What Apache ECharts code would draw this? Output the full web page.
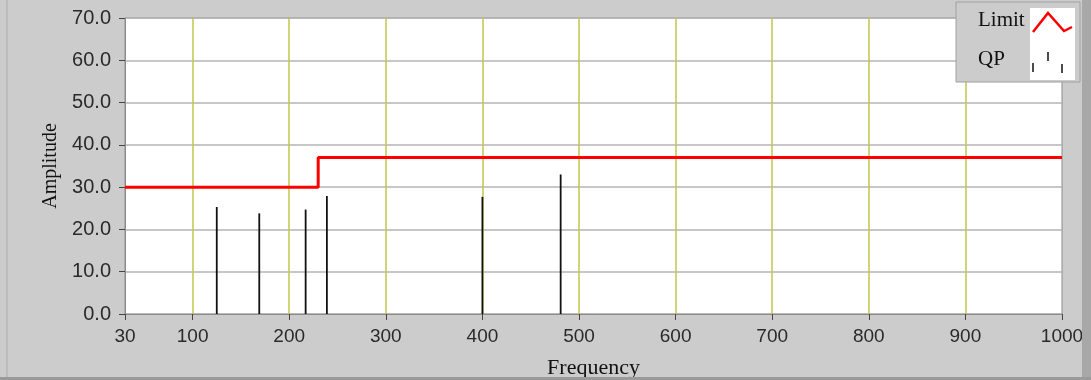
<!DOCTYPE html>
<html>
<head>
<meta charset="utf-8">
<script src="https://cdn.jsdelivr.net/npm/echarts@6/dist/echarts.min.js"></script>
<style>
html,body{margin:0;padding:0;background:#cccccc;}
#chart{width:1091px;height:380px;}
</style>
</head>
<body>
<div id="chart"></div>
<script>
// ---- data ----
var xTicks = [30, 100, 200, 300, 400, 500, 600, 700, 800, 900, 1000];
var xGridLines = [100, 200, 300, 400, 500, 600, 700, 800, 900];
var limitFreq = [30, 230, 230, 1000];
var limitAmp = [30, 30, 37, 37];
var qpFreq = [125, 169, 217, 239, 400, 481];
var qpAmp = [25.3, 23.8, 24.7, 27.9, 27.7, 33.0];
var yMin = 0, yMax = 70, yStep = 10;

var chart = echarts.init(document.getElementById('chart'));
var serif = '"Liberation Serif", "DejaVu Serif", serif';
var sans = '"Liberation Sans", "DejaVu Sans", sans-serif';

var limitData = limitFreq.map(function (f, i) { return [f, limitAmp[i]]; });
var qpData = qpFreq.map(function (f, i) { return [f, qpAmp[i]]; });

var option = {
  backgroundColor: '#cccccc',
  animation: false,
  grid: {
    left: 125, right: 29, top: 18, bottom: 66,
    outerBoundsMode: 'none', containLabel: false,
    show: true, backgroundColor: '#ffffff', borderColor: '#8c8c8c', borderWidth: 1
  },
  xAxis: {
    type: 'value', min: 30, max: 1000,
    name: 'Frequency', nameLocation: 'middle', nameGap: 43,
    nameTextStyle: { fontFamily: serif, fontSize: 22, color: '#111' },
    axisLine: { show: true, lineStyle: { color: '#8c8c8c' } },
    axisTick: { show: true, length: 6, customValues: xTicks, lineStyle: { color: '#444' } },
    axisLabel: { customValues: xTicks, fontFamily: sans, fontSize: 19, color: '#2a2a2a', margin: 13,
      formatter: function (v) { return String(v); } },
    splitLine: { show: false }
  },
  yAxis: {
    type: 'value', min: yMin, max: yMax, interval: yStep,
    name: 'Amplitude', nameLocation: 'middle', nameGap: 61, nameRotate: 90,
    nameTextStyle: { fontFamily: serif, fontSize: 20, color: '#111' },
    axisLine: { show: true, lineStyle: { color: '#8c8c8c' } },
    axisTick: { show: true, length: 6, lineStyle: { color: '#444' } },
    axisLabel: { fontFamily: sans, fontSize: 20, color: '#2a2a2a', margin: 14,
      formatter: function (v) { return v.toFixed(1); } },
    splitLine: { show: true, lineStyle: { color: '#b4b4b4', width: 1.5 } }
  },
  series: [
    {
      type: 'line', data: [], z: 1, silent: true,
      markLine: {
        silent: true, z: 1, symbol: 'none', label: { show: false },
        lineStyle: { color: '#c4c44a', type: 'solid', width: 1.5 },
        data: xGridLines.map(function (v) { return { xAxis: v }; })
      }
    },
    {
      name: 'QP', type: 'bar', data: qpData, barWidth: 1.8, z: 6,
      itemStyle: { color: '#111111' }
    },
    {
      name: 'Limit', type: 'line', data: limitData, showSymbol: false, z: 7,
      lineStyle: { color: '#ff0000', width: 3 }
    }
  ],
  graphic: [
    { type: 'rect', shape: { x: 1082, y: 0, width: 9, height: 380 }, style: { fill: '#a8a8a8' }, z: 1 },
    { type: 'rect', shape: { x: 0, y: 377, width: 1091, height: 3 }, style: { fill: '#9a9a9a' }, z: 1 },
    { type: 'rect', shape: { x: 6, y: 0, width: 2, height: 377 }, style: { fill: '#bdbdbd' }, z: 1 },
    { type: 'rect', shape: { x: 956, y: 2, width: 124, height: 80 }, style: { fill: '#cccccc', stroke: '#a0a0a0', lineWidth: 1 }, z: 11 },
    { type: 'rect', shape: { x: 1030, y: 8, width: 45, height: 72 }, style: { fill: '#ffffff' }, z: 12 },
    { type: 'text', x: 978, y: 10, style: { text: 'Limit', fontFamily: serif, fontSize: 21, fill: '#111' }, z: 12 },
    { type: 'text', x: 978, y: 49, style: { text: 'QP', fontFamily: serif, fontSize: 21, fill: '#111' }, z: 12 },
    { type: 'polyline', shape: { points: [[1033, 32], [1048, 13], [1064, 31], [1072, 27]] }, style: { stroke: '#ff0000', lineWidth: 2.5, fill: null }, z: 13 },
    { type: 'line', shape: { x1: 1033, y1: 63, x2: 1033, y2: 72 }, style: { stroke: '#111', lineWidth: 1.5 }, z: 13 },
    { type: 'line', shape: { x1: 1048, y1: 52, x2: 1048, y2: 61 }, style: { stroke: '#111', lineWidth: 1.5 }, z: 13 },
    { type: 'line', shape: { x1: 1062, y1: 64, x2: 1062, y2: 73 }, style: { stroke: '#111', lineWidth: 1.5 }, z: 13 }
  ]
};
chart.setOption(option);
</script>
</body>
</html>
